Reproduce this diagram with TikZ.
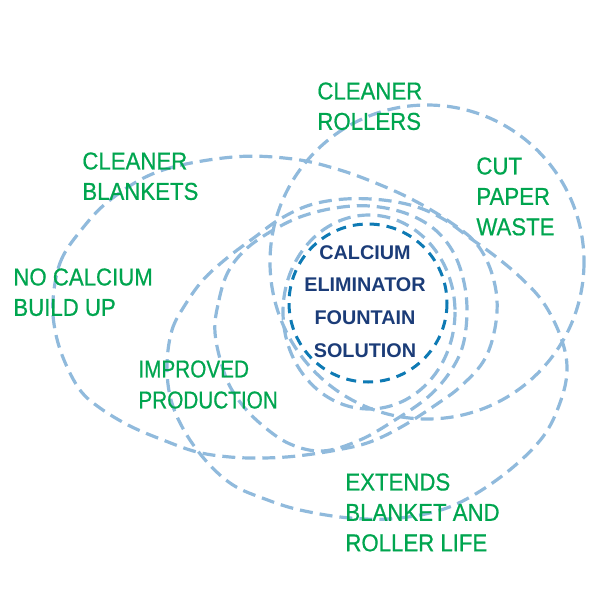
\documentclass[tikz,border=0pt]{standalone}
\usepackage{fontspec}
\setmainfont{Liberation Sans}
\newfontfamily\labfont[FakeStretch=0.91, FakeBold=0.6]{Liberation Sans}
\newfontfamily\labfontn[FakeStretch=0.85, FakeBold=0.6]{Liberation Sans}
\definecolor{lightline}{HTML}{90BADC}
\definecolor{darkline}{HTML}{0E7AB4}
\definecolor{navytext}{HTML}{1B3C78}
\definecolor{benefitgreen}{HTML}{00A54F}
\tikzset{
  lightring/.style={draw=lightline, line width=1.6pt, dash pattern=on 6.5pt off 3.5pt},
  darkring/.style={draw=darkline, line width=1.5pt, dash pattern=on 5pt off 3.5pt},
  benefit/.style={text=benefitgreen, font=\labfont\fontsize{12.2pt}{15.2pt}\selectfont, align=left, anchor=north west, inner sep=0pt},
  coretext/.style={text=navytext, font=\bfseries\fontsize{9.9pt}{16.35pt}\selectfont, align=center, inner sep=0pt}
}
\begin{document}
\begin{tikzpicture}[x=0.5pt, y=-0.5pt]
\useasboundingbox (0,0) rectangle (600,600);
% big left ellipse
\draw[lightring] plot[smooth cycle, tension=0.6] coordinates {
 (53,300) (60,263) (78,234) (110,200) (160,171) (233,157) (293,159) (340,170)
 (383,186) (417,202) (450,222) (475,242) (490,268) (497,300) (494,333) (483,362)
 (460,387) (437,404) (403,426) (370,442) (337,450) (297,456) (263,458) (230,457)
 (197,452) (163,440) (130,426) (100,408) (80,390) (64,360) (55,330)};
% extends ellipse
\draw[lightring] plot[smooth cycle, tension=0.6] coordinates {
 (167,365) (172,330) (185,305) (203,280) (227,258) (255,237) (280,219) (310,205)
 (345,199) (383,200) (417,207) (445,220) (470,238) (495,256) (520,277) (543,302)
 (560,335) (567,367) (561,400) (542,438) (502,476) (452,506) (400,518) (350,518)
 (300,510) (265,499) (233,485) (207,462) (185,432) (171,400)};
% rollers / paper waste circle
\draw[lightring] (427,262) circle [radius=157];
% improved production ellipse
\draw[lightring] plot[smooth cycle, tension=0.6] coordinates {
 (215,333) (219,300) (228,272) (245,250) (270,232) (300,217) (335,208) (370,206)
 (405,213) (433,228) (452,250) (463,278) (467,310) (463,345) (450,372) (428,397)
 (395,420) (360,440) (323,451) (290,444) (262,425) (240,402) (225,375)};
% ring hugging the centre
\draw[lightring] (369,312) ellipse [x radius=86, y radius=97];
% centre circle
\draw[darkring] (368,303) circle [radius=79];
\node[coretext] (core) at (365,301.5) {CALCIUM\\ELIMINATOR\\FOUNTAIN\\SOLUTION};
\node[benefit] (blankets) at (82,152) {CLEANER\\BLANKETS};
\node[benefit] (calcium) at (13,268) {NO CALCIUM\\BUILD UP};
\node[benefit] (rollers) at (317,82) {CLEANER\\ROLLERS};
\node[benefit] (paper) at (476,157) {CUT\\PAPER\\WASTE};
\node[benefit, font=\labfontn\fontsize{12.2pt}{15.5pt}\selectfont] (production) at (138,360) {IMPROVED\\PRODUCTION};
\node[benefit] (extends) at (345,473) {EXTENDS\\BLANKET AND\\ROLLER LIFE};
\end{tikzpicture}
\end{document}
